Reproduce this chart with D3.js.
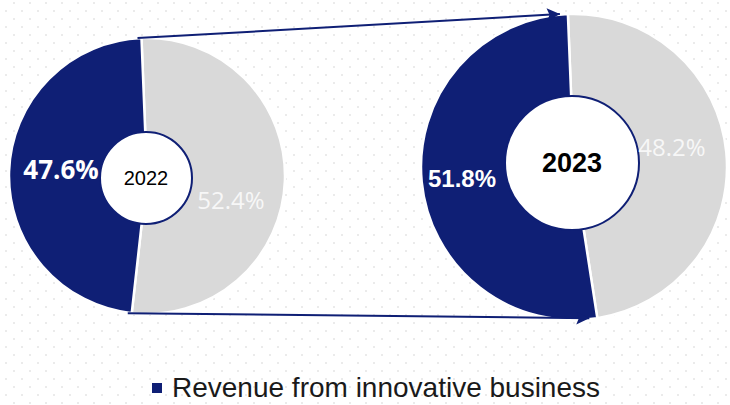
<!DOCTYPE html>
<html>
<head>
<meta charset="utf-8">
<script src="https://cdn.jsdelivr.net/npm/d3@7"></script>
<style>
  body { margin: 0; background: #fff; }
  text { font-family: "Liberation Sans", Arial, sans-serif; }
</style>
</head>
<body>
<svg id="chart" width="730" height="405"></svg>
<script>
// data
var years = ["2022", "2023"];
var innovative = [47.6, 51.8];
var other = [52.4, 48.2];
var legendLabel = "Revenue from innovative business";

var navy = "#0f1f75";
var grey = "#d9d9d9";

// layout of the two rings
var rings = [
  { cx: 147, cy: 176, r: 138, hole: 46, holeDx: -1, holeDy: 2, yearSize: 20, yearWeight: "normal",
    darkDx: -86, darkDy: -7, lightDx: 84, lightDy: 23 },
  { cx: 574, cy: 167, r: 153, hole: 67, holeDx: -2, holeDy: -4, yearSize: 27, yearWeight: "bold",
    darkDx: -112, darkDy: 11, lightDx: 98, lightDy: -21 }
];

var svg = d3.select("#chart");

// dotted background
var defs = svg.append("defs");
var pat = defs.append("pattern")
  .attr("id", "dots")
  .attr("width", 16).attr("height", 16)
  .attr("patternUnits", "userSpaceOnUse");
pat.append("rect").attr("x", 5).attr("y", 10).attr("width", 2).attr("height", 2).attr("fill", "#ebebeb");
pat.append("rect").attr("x", 13).attr("y", 2).attr("width", 2).attr("height", 2).attr("fill", "#ebebeb");
svg.append("rect").attr("width", 730).attr("height", 405).attr("fill", "url(#dots)");

defs.append("marker")
  .attr("id", "arrow")
  .attr("viewBox", "0 0 10 10")
  .attr("refX", 10).attr("refY", 5)
  .attr("markerWidth", 9).attr("markerHeight", 6.5)
  .attr("markerUnits", "strokeWidth")
  .attr("orient", "auto")
  .append("path")
  .attr("d", "M0,0 L10,5 L0,10 L2,5 Z")
  .attr("fill", navy);

var pie = d3.pie().sort(null).value(function(d) { return d.v; })
  .startAngle(-0.04).endAngle(2 * Math.PI - 0.04);

var slices = [];
for (var i = 0; i < years.length; i++) {
  var R = rings[i];
  var arcs = pie([{ k: "other", v: other[i] }, { k: "innov", v: innovative[i] }]);
  var arc = d3.arc().innerRadius(0).outerRadius(R.r);
  var g = svg.append("g").attr("transform", "translate(" + R.cx + "," + R.cy + ")");

  g.selectAll("path")
    .data(arcs)
    .enter().append("path")
    .attr("d", arc)
    .attr("fill", function(d) { return d.data.k == "innov" ? navy : grey; })
    .attr("stroke", "#fff")
    .attr("stroke-width", 2.5);

  slices.push({ g: g, arcs: arcs, R: R });
}

// connector arrows from 2022 ring edge to 2023 ring edge
function edgePoint(s, ang) {
  return [s.R.cx + s.R.r * Math.sin(ang), s.R.cy - s.R.r * Math.cos(ang)];
}
var a0 = slices[0].arcs[1], a1 = slices[1].arcs[1];
var lines = [
  [edgePoint(slices[0], a0.endAngle), edgePoint(slices[1], a1.endAngle)],
  [edgePoint(slices[0], a0.startAngle), edgePoint(slices[1], a1.startAngle)]
];
svg.selectAll("line.conn")
  .data(lines)
  .enter().append("line")
  .attr("class", "conn")
  .attr("x1", function(d) { return d[0][0] - 4; })
  .attr("y1", function(d) { return d[0][1]; })
  .attr("x2", function(d) { return d[1][0] - 8; })
  .attr("y2", function(d) { return d[1][1]; })
  .attr("stroke", navy)
  .attr("stroke-width", 2)
  .attr("marker-end", "url(#arrow)");

for (var j = 0; j < slices.length; j++) {
  var s = slices[j], R = s.R;
  s.g.append("circle")
    .attr("cx", R.holeDx).attr("cy", R.holeDy)
    .attr("r", R.hole)
    .attr("fill", "#fff")
    .attr("stroke", navy)
    .attr("stroke-width", 2);

  s.g.append("text")
    .attr("x", R.holeDx).attr("y", R.holeDy)
    .attr("text-anchor", "middle")
    .attr("dominant-baseline", "central")
    .style("font-size", R.yearSize + "px")
    .style("font-weight", R.yearWeight)
    .attr("fill", "#000")
    .text(years[j]);

  s.g.append("text")
    .attr("x", R.darkDx).attr("y", R.darkDy)
    .attr("text-anchor", "middle")
    .attr("dominant-baseline", "central")
    .style("font-size", j == 0 ? "26px" : "24px")
    .style("font-weight", "bold")
    .style("font-family", j == 0 ? "'Open Sans', sans-serif" : null)
    .attr("fill", "#fff")
    .text(innovative[j].toFixed(1) + "%");

  s.g.append("text")
    .attr("x", R.lightDx).attr("y", R.lightDy)
    .attr("text-anchor", "middle")
    .attr("dominant-baseline", "central")
    .style("font-size", "24px")
    .style("font-family", "'Open Sans', sans-serif")
    .attr("fill", "#f7f7f7")
    .text(other[j].toFixed(1) + "%");
}

// legend
var leg = svg.append("g").attr("transform", "translate(152,397)");
leg.append("rect").attr("x", 0).attr("y", -14).attr("width", 10).attr("height", 10).attr("fill", navy);
leg.append("text")
  .attr("x", 20).attr("y", 0)
  .style("font-size", "28px")
  .attr("fill", "#1a1a1a")
  .text(legendLabel);
</script>
</body>
</html>
